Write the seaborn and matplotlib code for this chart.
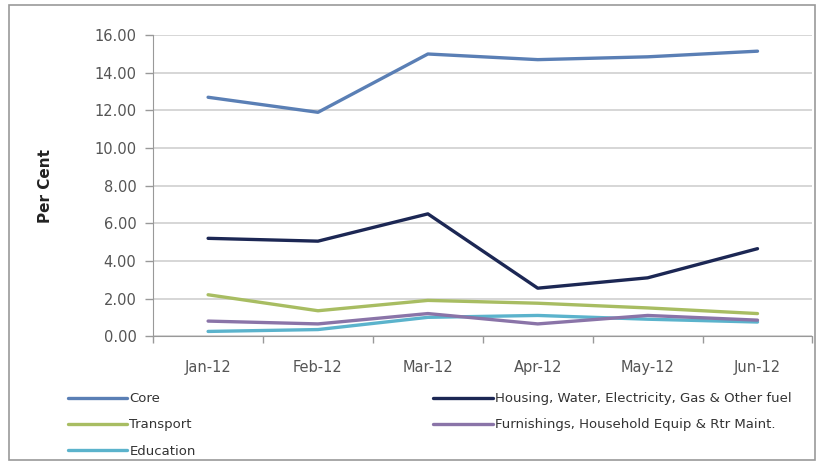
import matplotlib.pyplot as plt
import matplotlib.patches as mpatches
import seaborn as sns
import pandas as pd

# Datos
months = ["Jan-12", "Feb-12", "Mar-12", "Apr-12", "May-12", "Jun-12"]
core = [12.70, 11.90, 15.00, 14.70, 14.85, 15.15]
housing = [5.20, 5.05, 6.50, 2.55, 3.10, 4.65]
transport = [2.20, 1.35, 1.90, 1.75, 1.50, 1.20]
furnishings = [0.80, 0.65, 1.20, 0.65, 1.10, 0.85]
education = [0.25, 0.35, 1.00, 1.10, 0.90, 0.75]

series = {
    "Core": core,
    "Transport": transport,
    "Education": education,
    "Housing, Water, Electricity, Gas & Other fuel": housing,
    "Furnishings, Household Equip & Rtr Maint.": furnishings,
}
colors = ["#5a7fb5", "#a8bd62", "#5bb3cc", "#1c2754", "#8a74a8"]

df = pd.concat(
    [pd.DataFrame({"month": months, "value": v, "series": k}) for k, v in series.items()],
    ignore_index=True,
)

sns.set_style("white")
plt.rcParams["font.family"] = ["DejaVu Sans"]

fig = plt.figure(figsize=(8.19, 4.63), dpi=100)
ax = fig.add_axes([0.187, 0.274, 0.805, 0.65])

sns.lineplot(
    data=df, x="month", y="value", hue="series",
    palette=colors, linewidth=2.4, sort=False, ax=ax,
)

ax.set_ylim(0, 16)
ax.set_yticks(range(0, 17, 2))
ax.set_yticklabels([f"{v:.2f}" for v in range(0, 17, 2)])
ax.set_xlim(-0.5, 5.5)
ax.set_xticks([i - 0.5 for i in range(7)], minor=True)
ax.tick_params(axis="y", labelsize=10.5, colors="#555555", direction="out",
               length=6, width=1, color="#999999", left=True, pad=6)
ax.tick_params(axis="x", which="major", labelsize=10.5, colors="#555555",
               length=0, pad=17)
ax.tick_params(axis="x", which="minor", direction="out", length=5,
               width=1, color="#999999", bottom=True)
ax.yaxis.grid(True, color="#d0d0d0", linewidth=1.2)
ax.set_axisbelow(True)
ax.set_xlabel("")
ax.set_ylabel("Per Cent", fontsize=11, fontweight="bold", labelpad=30,
              color="#222222")
for s in ["top", "right"]:
    ax.spines[s].set_visible(False)
for s in ["left", "bottom"]:
    ax.spines[s].set_color("#999999")

handles, labels = ax.get_legend_handles_labels()
ax.get_legend().remove()
fig.legend(
    handles, labels, ncol=2, loc="upper left", bbox_to_anchor=(0.083, 0.153),
    bbox_transform=fig.transFigure, frameon=False, fontsize=9.5,
    handlelength=4.5, columnspacing=18, labelspacing=1.0, handletextpad=0.15,
    borderpad=0, borderaxespad=0, labelcolor="#333333",
)

fig.patches.append(mpatches.Rectangle(
    (0.011, 0.006), 0.984, 0.984, transform=fig.transFigure,
    fill=False, edgecolor="#999999", linewidth=1.2,
))

fig.savefig("out.png", dpi=100)
